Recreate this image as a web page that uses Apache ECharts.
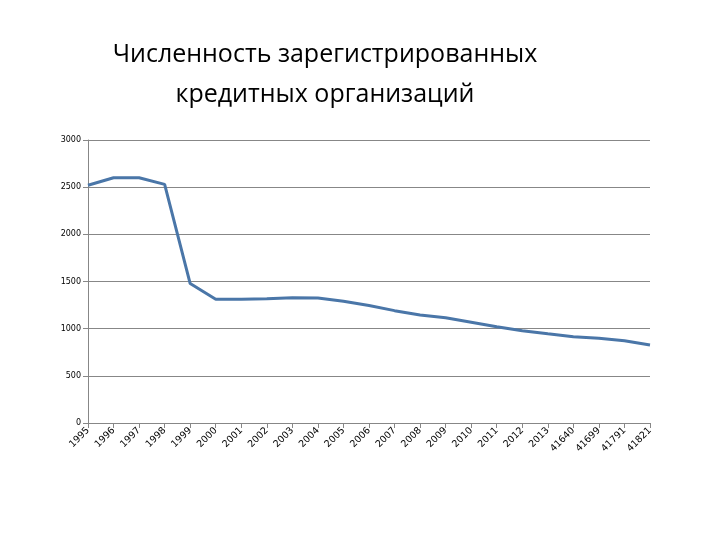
<!DOCTYPE html>
<html>
<head>
<meta charset="utf-8">
<script src="https://cdn.jsdelivr.net/npm/echarts@6/dist/echarts.min.js"></script>
<style>
html,body{margin:0;padding:0;background:#fff;}
#chart{width:720px;height:540px;}
</style>
</head>
<body>
<div id="chart"></div>
<script>
var titleText = 'Численность зарегистрированных\nкредитных организаций';
var categories = ['1995','1996','1997','1998','1999','2000','2001','2002','2003','2004','2005','2006','2007','2008','2009','2010','2011','2012','2013','41640','41699','41791','41821'];
var values = [2520, 2600, 2600, 2530, 1478, 1311, 1311, 1318, 1329, 1325, 1290, 1245, 1191, 1145, 1115, 1068, 1021, 978, 945, 915, 898, 873, 827];
var yTicks = {min: 0, max: 3000, interval: 500};

var chart = echarts.init(document.getElementById('chart'), null, {renderer: 'canvas'});
chart.setOption({
  animation: false,
  backgroundColor: '#ffffff',
  title: {
    text: titleText,
    left: 320,
    textAlign: 'center',
    top: 30,
    textStyle: {
      fontFamily: 'Open Sans',
      fontSize: 25,
      fontWeight: 'normal',
      color: '#000',
      lineHeight: 40
    }
  },
  grid: {left: 88, right: 70, top: 140, bottom: 117, containLabel: false},
  xAxis: {
    type: 'category',
    data: categories,
    boundaryGap: false,
    axisLine: {lineStyle: {color: '#878787', width: 1}},
    axisTick: {show: true, length: 5, lineStyle: {color: '#878787'}},
    axisLabel: {
      rotate: 45,
      interval: 0,
      fontFamily: 'DejaVu Sans',
      fontSize: 9.5,
      color: '#000',
      margin: 6
    },
    splitLine: {show: false}
  },
  yAxis: {
    type: 'value',
    min: yTicks.min,
    max: yTicks.max,
    interval: yTicks.interval,
    axisLine: {show: true, lineStyle: {color: '#878787', width: 1}},
    axisTick: {show: true, length: 5, lineStyle: {color: '#878787'}},
    axisLabel: {fontFamily: 'DejaVu Sans', fontSize: 8, color: '#000', margin: 7,
      formatter: function (v) { return String(v); }},
    splitLine: {show: true, lineStyle: {color: '#878787', width: 1}}
  },
  series: [{
    type: 'line',
    data: values,
    showSymbol: false,
    symbol: 'none',
    lineStyle: {color: '#4A76A8', width: 3},
    itemStyle: {color: '#4A76A8'}
  }]
});
</script>
</body>
</html>
